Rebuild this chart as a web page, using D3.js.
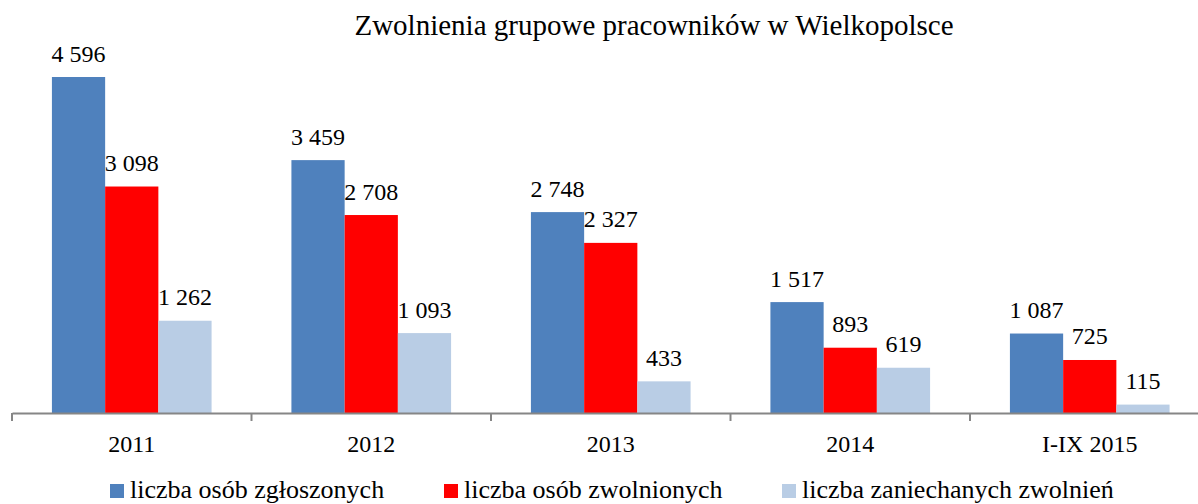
<!DOCTYPE html>
<html><head><meta charset="utf-8">
<script src="https://cdn.jsdelivr.net/npm/d3@7"></script>
<style>body{margin:0;background:#fff}svg{display:block}</style>
</head><body>
<svg id="c" width="1198" height="504"></svg>
<script>
const categories = ["2011","2012","2013","2014","I-IX 2015"];
const seriesNames = ["liczba osób zgłoszonych","liczba osób zwolnionych","liczba zaniechanych zwolnień"];
const zgloszone = [4596,3459,2748,1517,1087];
const zwolnione = [3098,2708,2327,893,725];
const zaniechane = [1262,1093,433,619,115];
const valueLabels = [["4 596","3 459","2 748","1 517","1 087"],["3 098","2 708","2 327","893","725"],["1 262","1 093","433","619","115"]];
const colors = ["#4F81BD","#FF0000","#B9CDE5"];
const title = "Zwolnienia grupowe pracowników w Wielkopolsce";

const FF = "'Liberation Serif', 'Times New Roman', serif";
const series = [zgloszone, zwolnione, zaniechane];
const svg = d3.select("#c");
const x0 = d3.scaleBand().domain(categories).range([12, 1209.5]).paddingInner(0).paddingOuter(0);
const x1 = d3.scaleBand().domain(d3.range(series.length)).range([x0.bandwidth()/6, x0.bandwidth()*5/6]);
const y = d3.scaleLinear().domain([0,5000]).range([413, 413-5000*336/4596]);

series.forEach((vals,si)=>{
  svg.append("g").selectAll("rect").data(vals).join("rect")
    .attr("x",(d,i)=>x0(categories[i])+x1(si))
    .attr("width",x1.bandwidth())
    .attr("y",d=>y(d)).attr("height",d=>y(0)-y(d))
    .attr("fill",colors[si]);
  svg.append("g").selectAll("text").data(vals).join("text")
    .attr("x",(d,i)=>x0(categories[i])+x1(si)+x1.bandwidth()/2)
    .attr("y",d=>y(d)-15.5)
    .attr("text-anchor","middle")
    .style("font-family",FF).style("font-size","24px").style("fill","#000")
    .text((d,i)=>valueLabels[si][i]);
});

const ax = svg.append("g").attr("transform","translate(0,413)")
  .call(d3.axisBottom(x0).tickSizeOuter(0).tickSizeInner(0));
ax.select(".domain").attr("stroke","#868686").attr("stroke-width",2);
ax.selectAll(".tick line").remove();
ax.selectAll(".tick text").attr("y",38.7).attr("dy",0)
  .style("font-family",FF).style("font-size","24px").style("fill","#000");
svg.append("g").selectAll("line").data(categories).join("line")
  .attr("x1",d=>x0(d)).attr("x2",d=>x0(d)).attr("y1",413).attr("y2",421)
  .attr("stroke","#868686").attr("stroke-width",2);

svg.append("text").attr("x",654).attr("y",35).attr("text-anchor","middle")
  .style("font-family",FF).style("font-size","29px").style("fill","#000").text(title);

const legX = [110,444,782];
const lg = svg.append("g");
seriesNames.forEach((n,i)=>{
  lg.append("rect").attr("x",legX[i]).attr("y",484).attr("width",14).attr("height",14).attr("fill",colors[i]);
  lg.append("text").attr("x",legX[i]+20).attr("y",498)
    .style("font-family",FF).style("font-size","26px").style("fill","#000").text(n);
});
</script>
</body></html>
